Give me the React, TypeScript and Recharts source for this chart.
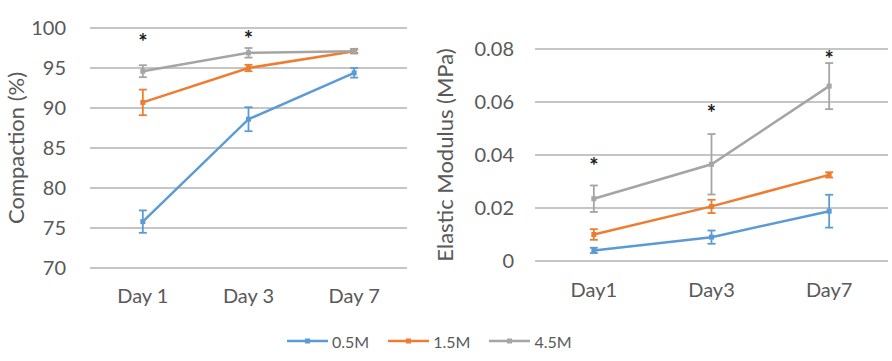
import React from "react";
import { ComposedChart, Line, XAxis, YAxis, CartesianGrid, ErrorBar } from "recharts";

const compactionDays = ["Day 1", "Day 3", "Day 7"];
const compaction05 = [75.8, 88.6, 94.4];
const compaction05Err = [1.4, 1.5, 0.6];
const compaction15 = [90.7, 95.0, 97.1];
const compaction15Err = [1.6, 0.4, 0.2];
const compaction45 = [94.6, 96.9, 97.1];
const compaction45Err = [0.75, 0.6, 0.3];
const compactionStars = [98.8, 99.1, null];
const compactionTicks = [70, 75, 80, 85, 90, 95, 100];

const modulusDays = ["Day1", "Day3", "Day7"];
const modulus05 = [0.004, 0.009, 0.0188];
const modulus05Err = [0.001, 0.0025, 0.0062];
const modulus15 = [0.01, 0.0206, 0.0325];
const modulus15Err = [0.002, 0.0025, 0.001];
const modulus45 = [0.0235, 0.0365, 0.066];
const modulus45Err = [0.005, 0.0114, 0.0087];
const modulusStars = [0.0373, 0.0574, 0.0777];
const modulusTicks = [0, 0.02, 0.04, 0.06, 0.08];

const seriesNames = ["0.5M", "1.5M", "4.5M"];
const COLORS = ["#5b9bd5", "#ed7d31", "#a5a5a5"];
const TEXT = "#595959";
const GRID = "#8c8c8c";
const FONT = "Lato, 'Open Sans', sans-serif";

const compactionData = compactionDays.map((day, i) => ({
  day,
  s05: compaction05[i], e05: compaction05Err[i],
  s15: compaction15[i], e15: compaction15Err[i],
  s45: compaction45[i], e45: compaction45Err[i],
  star: compactionStars[i],
}));

const modulusData = modulusDays.map((day, i) => ({
  day,
  s05: modulus05[i], e05: modulus05Err[i],
  s15: modulus15[i], e15: modulus15Err[i],
  s45: modulus45[i], e45: modulus45Err[i],
  star: modulusStars[i],
}));

const squareDot = (color: string) => (p: any) => {
  if (p.cy == null || p.cx == null) return <g key={p.index} />;
  return <rect key={p.index} x={p.cx - 2.5} y={p.cy - 2.5} width={5} height={5} fill={color} />;
};

const starDot = (p: any) => {
  if (p.cy == null || p.value == null) return <g key={p.index} />;
  return (
    <text key={p.index} x={p.cx} y={p.cy + 12} textAnchor="middle" fontSize={22}
      fontWeight={700} fill="#1a1a1a" fontFamily={FONT}>*</text>
  );
};

const tickStyle = { fontSize: 20, fill: TEXT, fontFamily: FONT };

function renderSeries() {
  const keys = ["05", "15", "45"];
  return keys.map((k, i) => (
    <Line key={k} dataKey={`s${k}`} stroke={COLORS[i]} strokeWidth={2.5}
      dot={squareDot(COLORS[i])} activeDot={false} isAnimationActive={false}>
      <ErrorBar dataKey={`e${k}`} width={4} stroke={COLORS[i]} strokeWidth={1.8} direction="y" />
    </Line>
  ));
}

function CompactionChart() {
  return (
    <ComposedChart width={420} height={320} data={compactionData}
      margin={{ top: 28, right: 13, bottom: 22, left: 30 }}>
      <CartesianGrid vertical={false} stroke={GRID} />
      <XAxis dataKey="day" scale="band" axisLine={false} tickLine={false} tickSize={0} tickMargin={21}
        height={30} tick={tickStyle} />
      <YAxis domain={[70, 100]} ticks={compactionTicks} axisLine={false} tickLine={false}
        tickSize={0} tickMargin={24} width={60} tick={tickStyle} interval={0}
        label={{ value: "Compaction (%)", angle: -90, position: "insideLeft", offset: -14,
          style: { textAnchor: "middle", fontSize: 22, fill: TEXT, fontFamily: FONT } }} />
      {renderSeries()}
      <Line dataKey="star" stroke="none" dot={starDot} activeDot={false} isAnimationActive={false} />
    </ComposedChart>
  );
}

function ModulusChart() {
  return (
    <ComposedChart width={472} height={320} data={modulusData}
      margin={{ top: 49, right: 4, bottom: 29, left: 40 }}>
      <CartesianGrid vertical={false} stroke={GRID} />
      <XAxis dataKey="day" scale="band" axisLine={false} tickLine={false} tickSize={0} tickMargin={22}
        height={30} tick={tickStyle} />
      <YAxis domain={[0, 0.08]} ticks={modulusTicks} axisLine={false} tickLine={false}
        tickSize={0} tickMargin={21} width={75} tick={tickStyle} interval={0}
        tickFormatter={(v: number) => (v === 0 ? "0" : v.toFixed(2))}
        label={{ value: "Elastic Modulus (MPa)", angle: -90, position: "insideLeft", offset: -15,
          style: { textAnchor: "middle", fontSize: 22, fill: TEXT, fontFamily: FONT } }} />
      {renderSeries()}
      <Line dataKey="star" stroke="none" dot={starDot} activeDot={false} isAnimationActive={false} />
    </ComposedChart>
  );
}

function LegendRow() {
  return (
    <div style={{ position: "absolute", left: 286, top: 331, display: "flex", alignItems: "center",
      fontFamily: FONT, fontSize: 16, color: TEXT }}>
      {seriesNames.map((name, i) => (
        <div key={name} style={{ display: "flex", alignItems: "center", marginRight: 18 }}>
          <svg width={43} height={20} style={{ marginRight: 3 }}>
            <line x1={1} y1={10} x2={42} y2={10} stroke={COLORS[i]} strokeWidth={2.5} />
            <rect x={19} y={7.5} width={5} height={5} fill={COLORS[i]} />
          </svg>
          <span>{name}</span>
        </div>
      ))}
    </div>
  );
}

export default function App() {
  return (
    <div style={{ position: "absolute", left: 0, top: 0, width: 892, height: 361, background: "#fff", overflow: "hidden" }}>
      <div style={{ position: "absolute", left: 0, top: 0 }}>
        <CompactionChart />
      </div>
      <div style={{ position: "absolute", left: 420, top: 0 }}>
        <ModulusChart />
      </div>
      <LegendRow />
    </div>
  );
}
